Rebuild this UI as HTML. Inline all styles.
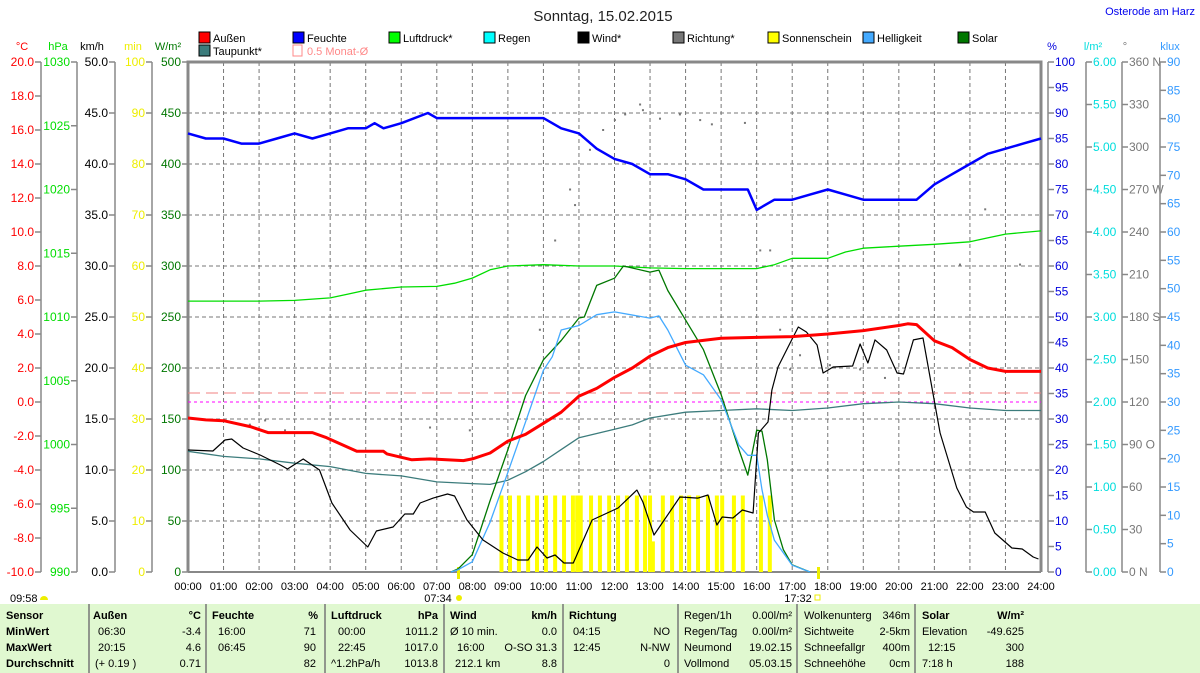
<!DOCTYPE html>
<html><head><meta charset="utf-8">
<style>
body{margin:0;background:#fff;}
svg{display:block;font-family:"Liberation Sans",sans-serif;}
</style></head>
<body>
<svg id="c" width="1200" height="673" viewBox="0 0 1200 673" xmlns="http://www.w3.org/2000/svg">
<text x="603" y="21" text-anchor="middle" font-size="15" fill="#222">Sonntag, 15.02.2015</text>
<text x="1195" y="15" text-anchor="end" font-size="11" fill="#0000ee">Osterode am Harz</text>
<g id="legend" font-size="11" fill="#000"></g>
<g id="grid"></g>
<g id="axes" font-size="11"></g>
<g id="marks"></g>
<g id="table" font-size="11"></g>
</svg>
<script>
var NS="http://www.w3.org/2000/svg";
// ---------- data ----------
var tempT=[0,0.5,1,1.75,2.25,3,3.5,3.9,4.75,5.5,5.6,6.3,6.8,7.75,8,8.5,9,9.5,10,10.5,11,11.5,12,12.5,13,13.5,14,15,16,17,18,19,20,20.25,20.5,21,21.5,22,22.5,23,24];
var tempV=[-0.94,-1.05,-1.1,-1.45,-1.8,-1.8,-1.8,-2.1,-2.9,-2.9,-3.05,-3.4,-3.35,-3.45,-3.35,-3.0,-2.3,-1.9,-1.25,-0.6,0.35,0.8,1.45,2.0,2.7,3.2,3.5,3.75,3.8,3.85,4.0,4.2,4.5,4.6,4.55,3.6,3.2,2.5,2.0,1.8,1.8];
var dewT=[0,1,2,3,4,5,6,7,8,8.5,9,9.5,10,10.5,11,12,12.5,13,14,15,16,17,18,19,20,21,22,23,24];
var dewV=[-2.9,-3.2,-3.35,-3.6,-3.8,-4.2,-4.35,-4.7,-4.8,-4.85,-4.6,-4.1,-3.5,-2.8,-2.1,-1.6,-1.35,-0.94,-0.6,-0.5,-0.4,-0.5,-0.35,-0.1,0.0,-0.1,-0.35,-0.5,-0.5];
var humT=[0,0.5,1,1.5,2,2.5,3,3.5,4,4.5,5,5.25,5.5,6,6.75,7,8,9,10,10.5,11,11.5,12,12.5,13,13.5,14,14.5,15,15.75,16,16.5,17,17.5,18,18.5,19,20,20.5,21,21.5,22,22.5,23,23.5,24];
var humV=[86,85,85,84,84,85,86,85,86,87,87,88,87,88,90,89,89,89,89,87,86,83,81,80,78,78,77,75,75,75,71,73,73,74,75,74,73,73,73,76,78,80,82,83,84,85];
var presT=[0,2,3,4,4.5,5,6,7,7.5,8,8.5,9,10,11,12,13,14,15,16,16.5,17,18,18.5,19,20,21,22,22.5,23,24];
var presV=[1011.25,1011.25,1011.3,1011.5,1011.8,1012.1,1012.35,1012.4,1012.65,1013.05,1013.7,1014.0,1014.1,1014.0,1014.0,1013.85,1013.8,1013.8,1013.8,1014.1,1014.6,1014.6,1015.1,1015.4,1015.55,1015.7,1015.9,1016.2,1016.5,1016.75];
var windT=[0,0.7,1.04,1.23,1.55,2.03,2.6,2.8,3.24,3.7,4.05,4.56,5.06,5.3,5.77,6.1,6.34,6.53,6.9,7.3,7.5,7.85,8.3,8.86,9.28,9.57,9.82,10.1,10.33,10.58,10.84,11.37,12.1,12.63,12.8,13.11,13.84,14.35,14.63,14.88,15.03,15.33,15.6,15.9,16.05,16.32,16.43,16.6,16.94,17.17,17.4,17.7,17.87,18.15,18.7,18.91,19.13,19.33,19.66,19.95,20.13,20.41,20.68,21.16,21.63,21.9,22.1,22.43,22.7,23.18,23.47,23.78,23.93];
var windV=[11.96,11.86,12.94,13.04,12.16,11.47,10.49,10.1,11.08,10.0,6.76,4.12,2.45,4.02,4.41,5.69,5.69,6.76,7.25,7.65,7.45,5.1,3.14,1.86,1.18,1.18,2.45,1.37,1.67,0.88,0.88,5.1,6.27,8.04,6.86,3.63,7.35,7.25,7.55,4.61,5.39,5.29,6.08,5.78,13.63,14.71,17.84,20.1,22.45,24.02,23.53,22.25,19.51,20.1,20.2,22.35,20.49,22.75,21.76,19.51,19.41,22.75,22.94,13.63,8.24,6.37,5.88,5.88,3.82,2.35,2.25,1.47,1.27];
var solarT=[7.4,7.6,8,8.5,9,9.5,10,10.5,11,11.15,11.5,12,12.25,12.5,13,13.25,13.5,14,14.5,15,15.5,15.75,16,16.15,16.3,16.5,16.75,17,17.5];
var solarV=[0,3,17,70,120,173,208,227,249,250,281,288,300,298,294,296,276,247,218,174,120,95,139,138,110,51,22,7,0];
var luxT=[7.4,7.6,8,8.5,9,9.5,10,10.25,10.5,11,11.5,12,13,13.25,13.5,14,14.5,15,15.5,15.75,16,16.15,16.3,16.5,17,17.5];
var luxV=[0,0.4,1.8,8.8,17.6,26.5,35.6,38,42.7,43.5,45.4,45.9,44.8,45.2,42.7,36.5,34.8,30.4,22.4,20.6,20.6,14.5,10,5.6,1.2,0];
var dirT=[1.74,2.17,2.73,5.97,6.81,7.93,9.9,10.33,10.75,10.89,11.31,11.68,12.01,12.3,12.72,12.8,13.28,13.84,14.41,14.74,15.67,16.1,16.38,16.66,16.94,17.22,18.06,18.91,19.61,20.17,21.72,22.43,23.41];
var dirV=[104,107,100,83,102,100,171,234,270,259,298,312,319,323,330,326,320,323,319,316,317,227,227,171,143,153,146,143,137,143,217,256,217];
var sunT=[8.82,9.06,9.31,9.57,9.82,10.07,10.33,10.58,10.83,10.95,11.05,11.34,11.59,11.85,12.1,12.35,12.63,12.86,13.0,13.08,13.36,13.62,13.87,14.1,14.35,14.63,14.88,15.03,15.36,15.61,16.12,16.37];
var sunV=[15,15,15,15,15,15,15,15,15,15,15,15,15,15,15,15,15,15,15,6,15,15,15,15,15,15,15,15,15,15,15,15];
var hourLabels=["00:00","01:00","02:00","03:00","04:00","05:00","06:00","07:00","08:00","09:00","10:00","11:00","12:00","13:00","14:00","15:00","16:00","17:00","18:00","19:00","20:00","21:00","22:00","23:00","24:00"];
var tempMonthAvg=0.53;
// ---------- scales ----------
var X0=188,X1=1041,YT=62,YB=572,H=YB-YT;
function X(h){return X0+h*(X1-X0)/24;}
function lin(min,max){return function(v){return YB-(v-min)/(max-min)*H;};}
var yTemp=lin(-10,20),yHum=lin(0,100),yPres=lin(990,1030),yWind=lin(0,50),ySun=lin(0,100),ySol=lin(0,500),yLux=lin(0,90),yDir=lin(0,360),yRain=lin(0,6);
function mk(tag,attrs,parent){var e=document.createElementNS(NS,tag);for(var k in attrs)e.setAttribute(k,attrs[k]);parent.appendChild(e);return e;}
var grid=document.getElementById('grid'),axes=document.getElementById('axes'),marks=document.getElementById('marks'),legend=document.getElementById('legend'),table=document.getElementById('table');
// grid
for(var i=1;i<10;i++){var gy=YT+i*H/10;var l=mk('line',{x1:X0,x2:X1,y1:gy,y2:gy,stroke:'#777','stroke-dasharray':'4,3','stroke-width':1},grid);

}
for(var i=1;i<24;i++){var gx=X(i);var l=mk('line',{x1:gx,x2:gx,y1:YT,y2:YB,stroke:'#777','stroke-dasharray':'4,3','stroke-width':1},grid);

}
var fr=mk('path',{d:'M'+X0+' '+YB+'V'+YT+'H'+X1+'V'+YB,fill:'none',stroke:'#888','stroke-width':3},grid);


var bl=mk('line',{x1:X0,x2:X1,y1:YB,y2:YB,stroke:'#888','stroke-width':2},grid);


// axes
function axis(name,lineX,side,min,max,step,scale,color,unit,unitX,fmt,labels){
  var g=mk('g',{},axes);
  
  
  mk('line',{x1:lineX,x2:lineX,y1:YT,y2:YB,stroke:'#888','stroke-width':1.5},g);
  var t=mk('text',{x:unitX,y:50,fill:color,'text-anchor':'middle'},g);t.textContent=unit;
  var idx=0;
  for(var v=min;v<=max+1e-9;v+=step){var y=scale(v);
    mk('line',{x1:side<0?lineX-6:lineX,x2:side<0?lineX:lineX+6,y1:y,y2:y,stroke:'#888','stroke-width':1.5},g);
    var tx=mk('text',{x:side<0?lineX-7:lineX+7,y:y+4,fill:color,'text-anchor':side<0?'end':'start','font-size':12},g);
    tx.textContent=labels?labels[idx]:fmt(v);idx++;}
}
axis('temp-axis',41,-1,-10,20,2,yTemp,'#f00','°C',22,function(v){return v.toFixed(1);});
axis('pressure-axis',77,-1,990,1030,5,yPres,'#0d0','hPa',58,function(v){return String(v);});
axis('wind-axis',115,-1,0,50,5,yWind,'#000','km/h',92,function(v){return v.toFixed(1);});
axis('sunshine-axis',152,-1,0,100,10,ySun,'#ee0','min',133,function(v){return String(v);});
axis('solar-axis',188,-1,0,500,50,ySol,'#070','W/m²',168,function(v){return String(v);});
axis('humidity-axis',1048,1,0,100,5,yHum,'#00d','%',1052,function(v){return String(v);});
axis('rain-axis',1086,1,0,6,0.5,yRain,'#0dd','l/m²',1093,function(v){return v.toFixed(2);});
axis('direction-axis',1122,1,0,360,30,yDir,'#777','°',1125,null,["0 N","30","60","90 O","120","150","180 S","210","240","270 W","300","330","360 N"]);
axis('lux-axis',1160,1,0,90,5,yLux,'#39f','klux',1170,function(v){return String(v);});
// x labels
hourLabels.forEach(function(s,i){var t=mk('text',{x:X(i),y:590,'text-anchor':'middle','font-size':11,fill:'#000'},axes);t.textContent=s;

});
[["07:34",438,"sunrise"],["17:32",798,"sunset"]].forEach(function(a){var t=mk('text',{x:a[1],y:602,'text-anchor':'middle','font-size':11},axes);t.textContent=a[0];

});
mk('circle',{cx:459,cy:598,r:3,fill:'#ee0'},axes);
mk('rect',{x:815,y:595,width:5,height:5,fill:'none',stroke:'#ee0'},axes);
mk('rect',{x:457,y:567,width:3,height:12,fill:'#ee0'},axes);
mk('rect',{x:817,y:567,width:3,height:12,fill:'#ee0'},axes);
var dl=mk('text',{x:10,y:602,'font-size':11},axes);dl.textContent="09:58";


mk('path',{d:'M40 600a4 4 0 0 1 8 0z',fill:'#ee0'},axes);
// reference lines
var ml=mk('line',{x1:X0,x2:X1,y1:yTemp(tempMonthAvg),y2:yTemp(tempMonthAvg),stroke:'#f08080','stroke-dasharray':'12,6','stroke-width':1},marks);


var zl=mk('line',{x1:X0,x2:X1,y1:yTemp(0),y2:yTemp(0),stroke:'#f0f','stroke-dasharray':'3,3','stroke-width':1},marks);


// sunshine bars
sunT.forEach(function(t,i){var y=ySun(sunV[i]);var r=mk('rect',{x:X(t)-2,y:y,width:4,height:YB-y,fill:'#ff0'},marks);

});
function line(name,T,V,scale,color,w){var d=T.map(function(t,i){return (i?'L':'M')+X(t).toFixed(1)+' '+scale(V[i]).toFixed(1);}).join('');
var p=mk('path',{d:d,fill:'none',stroke:color,'stroke-width':w,'stroke-linejoin':'round'},marks);

}
line('pressure-line',presT,presV,yPres,'#0d0',1.3);
line('dewpoint-line',dewT,dewV,yTemp,'#3c7c7c',1.3);
line('solar-line',solarT,solarV,ySol,'#070',1.3);
line('brightness-line',luxT,luxV,yLux,'#4af',1.3);
line('wind-line',windT,windV,yWind,'#000',1.2);
dirT.forEach(function(t,i){var c=mk('rect',{x:X(t)-1,y:yDir(dirV[i])-1,width:2,height:2,fill:'#777'},marks);

});
line('humidity-line',humT,humV,yHum,'#00f',2.5);
line('temperature-line',tempT,tempV,yTemp,'#f00',3);
// legend
var leg=[["Außen",199,38,'#f00'],["Feuchte",293,38,'#00f'],["Luftdruck*",389,38,'#0f0'],["Regen",484,38,'#0ff'],["Wind*",578,38,'#000'],["Richtung*",673,38,'#777'],["Sonnenschein",768,38,'#ff0'],["Helligkeit",863,38,'#4af'],["Solar",958,38,'#070'],["Taupunkt*",199,51,'#3c7c7c']];
leg.forEach(function(a){var g=mk('g',{},legend);


mk('rect',{x:a[1],y:a[2]-6,width:11,height:11,fill:a[3],stroke:'#000','stroke-width':1},g);
var t=mk('text',{x:a[1]+14,y:a[2]+4},g);t.textContent=a[0];});
var lg=mk('g',{},legend);


mk('rect',{x:293,y:45,width:9,height:11,fill:'none',stroke:'#f88'},lg);
var lt=mk('text',{x:307,y:55,fill:'#f88'},lg);lt.textContent="0.5 Monat-Ø";
// table
var bg=mk('rect',{x:0,y:604,width:1200,height:69,fill:'#e0f8d0'},table);


[89,206,325,444,563,678,797,915].forEach(function(x){mk('line',{x1:x,x2:x,y1:604,y2:673,stroke:'#777','stroke-width':1.5},table);});
var rows=[619,635,651,667];
function cell(txt,x,r,anchor,bold){var t=mk('text',{x:x,y:rows[r],'text-anchor':anchor||'start','font-weight':bold?'bold':'normal'},table);t.textContent=txt;}
cell('Sensor',6,0,0,1);cell('MinWert',6,1,0,1);cell('MaxWert',6,2,0,1);cell('Durchschnitt',6,3,0,1);
cell('Außen',93,0,0,1);cell('°C',201,0,'end',1);cell('06:30',98,1);cell('-3.4',201,1,'end');cell('20:15',98,2);cell('4.6',201,2,'end');cell('(+ 0.19 )',95,3);cell('0.71',201,3,'end');
cell('Feuchte',212,0,0,1);cell('%',318,0,'end',1);cell('16:00',218,1);cell('71',316,1,'end');cell('06:45',218,2);cell('90',316,2,'end');cell('82',316,3,'end');
cell('Luftdruck',331,0,0,1);cell('hPa',438,0,'end',1);cell('00:00',338,1);cell('1011.2',438,1,'end');cell('22:45',338,2);cell('1017.0',438,2,'end');cell('^1.2hPa/h',331,3);cell('1013.8',438,3,'end');
cell('Wind',450,0,0,1);cell('km/h',557,0,'end',1);cell('Ø 10 min.',450,1);cell('0.0',557,1,'end');cell('16:00',457,2);cell('O-SO 31.3',557,2,'end');cell('212.1 km',455,3);cell('8.8',557,3,'end');
cell('Richtung',569,0,0,1);cell('04:15',573,1);cell('NO',670,1,'end');cell('12:45',573,2);cell('N-NW',670,2,'end');cell('0',670,3,'end');
cell('Regen/1h',684,0);cell('0.00l/m²',792,0,'end');cell('Regen/Tag',684,1);cell('0.00l/m²',792,1,'end');cell('Neumond',684,2);cell('19.02.15',792,2,'end');cell('Vollmond',684,3);cell('05.03.15',792,3,'end');
cell('Wolkenunterg',804,0);cell('346m',910,0,'end');cell('Sichtweite',804,1);cell('2-5km',910,1,'end');cell('Schneefallgr',804,2);cell('400m',910,2,'end');cell('Schneehöhe',804,3);cell('0cm',910,3,'end');
cell('Solar',922,0,0,1);cell('W/m²',1024,0,'end',1);cell('Elevation',922,1);cell('-49.625',1024,1,'end');cell('12:15',928,2);cell('300',1024,2,'end');cell('7:18 h',922,3);cell('188',1024,3,'end');
</script>
</body></html>
